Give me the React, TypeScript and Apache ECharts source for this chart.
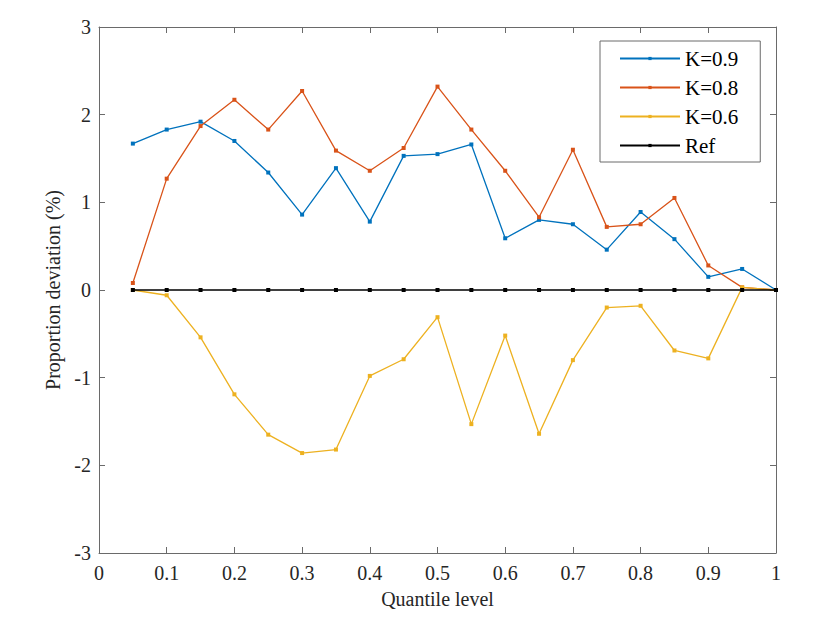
import React, { useEffect, useRef } from "react";
import * as echarts from "echarts";

const quantiles = [0.05, 0.1, 0.15, 0.2, 0.25, 0.3, 0.35, 0.4, 0.45, 0.5, 0.55, 0.6, 0.65, 0.7, 0.75, 0.8, 0.85, 0.9, 0.95, 1.0];
const k09 = [1.67, 1.83, 1.92, 1.70, 1.34, 0.86, 1.39, 0.78, 1.53, 1.55, 1.66, 0.59, 0.80, 0.75, 0.46, 0.89, 0.58, 0.15, 0.24, 0];
const k08 = [0.08, 1.27, 1.87, 2.17, 1.83, 2.27, 1.59, 1.36, 1.62, 2.32, 1.83, 1.36, 0.83, 1.60, 0.72, 0.75, 1.05, 0.28, 0.03, 0];
const k06 = [0, -0.06, -0.54, -1.19, -1.65, -1.86, -1.82, -0.98, -0.79, -0.31, -1.53, -0.52, -1.64, -0.80, -0.20, -0.18, -0.69, -0.78, 0.03, 0];
const refVals = [0, 0, 0, 0, 0, 0, 0, 0, 0, 0, 0, 0, 0, 0, 0, 0, 0, 0, 0, 0];
const seriesNames = ["K=0.9", "K=0.8", "K=0.6", "Ref"];
const colors = ["#0072BD", "#D95319", "#EDB120", "#000000"];
const xName = "Quantile level";
const yName = "Proportion deviation (%)";

const FONT = "'Liberation Serif', 'Times New Roman', serif";
const AXIS_COLOR = "#6a6a6a";
const TEXT_COLOR = "#262626";

export default function App() {
  const ref = useRef<HTMLDivElement>(null);
  useEffect(() => {
    if (!ref.current) return;
    const chart = echarts.init(ref.current, null, { renderer: "svg" });
    const allData = [k09, k08, k06, refVals];
    const axisCommon = {
      axisLine: { show: true, onZero: false, lineStyle: { color: AXIS_COLOR, width: 1 } },
      axisTick: { show: true, inside: true, length: 6, lineStyle: { color: AXIS_COLOR } },
      splitLine: { show: false },
    };
    chart.setOption({
      animation: false,
      color: colors,
      textStyle: { fontFamily: FONT },
      grid: { left: 99, right: 64, top: 27, bottom: 77, containLabel: false },
      legend: {
        show: true,
        data: seriesNames,
        orient: "vertical",
        left: 600,
        top: 41,
        padding: [7, 22, 6, 19],
        itemWidth: 60,
        itemHeight: 4,
        itemGap: 8,
        borderColor: AXIS_COLOR,
        borderWidth: 1,
        borderRadius: 0,
        backgroundColor: "#ffffff",
        textStyle: { fontFamily: FONT, fontSize: 21, color: "#000" },
      },
      xAxis: [
        {
          type: "value",
          min: 0,
          max: 1,
          interval: 0.1,
          position: "bottom",
          name: xName,
          nameLocation: "middle",
          nameGap: 36,
          nameTextStyle: { fontFamily: FONT, fontSize: 20, color: TEXT_COLOR },
          axisLabel: { fontFamily: FONT, fontSize: 20, color: TEXT_COLOR, margin: 10 },
          ...axisCommon,
        },
        {
          type: "value",
          min: 0,
          max: 1,
          interval: 0.1,
          position: "top",
          axisLabel: { show: false },
          ...axisCommon,
        },
      ],
      yAxis: [
        {
          type: "value",
          min: -3,
          max: 3,
          interval: 1,
          position: "left",
          name: yName,
          nameLocation: "middle",
          nameGap: 31,
          nameTextStyle: { fontFamily: FONT, fontSize: 20, color: TEXT_COLOR },
          axisLabel: { fontFamily: FONT, fontSize: 20, color: TEXT_COLOR, margin: 8 },
          ...axisCommon,
        },
        {
          type: "value",
          min: -3,
          max: 3,
          interval: 1,
          position: "right",
          axisLabel: { show: false },
          ...axisCommon,
        },
      ],
      series: seriesNames.map((name, i) => ({
        name,
        type: "line",
        xAxisIndex: 0,
        yAxisIndex: 0,
        data: quantiles.map((q, j) => [q, allData[i][j]]),
        symbol: "rect",
        symbolSize: 4,
        showSymbol: true,
        lineStyle: { width: 1.3, color: colors[i] },
        itemStyle: { color: colors[i] },
        z: 2 + i,
      })),
    });
    return () => chart.dispose();
  }, []);
  return (
    <div
      ref={ref}
      style={{ position: "fixed", left: 0, top: 0, width: 840, height: 630, background: "#fff" }}
    />
  );
}
